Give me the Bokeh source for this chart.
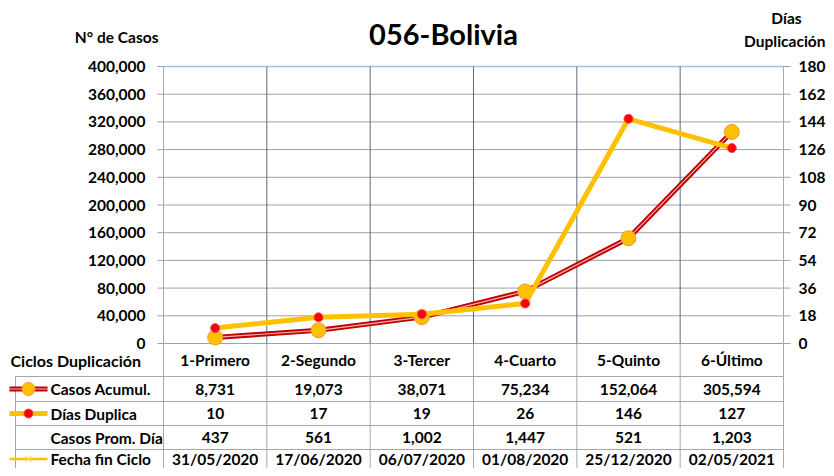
from bokeh.plotting import figure
from bokeh.models import Range1d
from bokeh.embed import file_html
from bokeh.resources import INLINE
from bokeh.core.properties import value

# ---------------- data ----------------
ciclos = ["1-Primero", "2-Segundo", "3-Tercer", "4-Cuarto", "5-Quinto", "6-Último"]
casos_acumul = [8731, 19073, 38071, 75234, 152064, 305594]
dias_duplica = [10, 17, 19, 26, 146, 127]
casos_prom_dia = [437, 561, 1002, 1447, 521, 1203]
fecha_fin_ciclo = ["31/05/2020", "17/06/2020", "06/07/2020", "01/08/2020", "25/12/2020", "02/05/2021"]
casos_ticks = list(range(0, 400001, 40000))
dias_ticks = list(range(0, 181, 18))
title_text = "056-Bolivia"
left_label = "N° de Casos"
right_label = ["Días", "Duplicación"]
row_labels = ["Casos Acumul.", "Días Duplica", "Casos Prom. Día", "Fecha fin Ciclo"]
header_label = "Ciclos Duplicación"

CASOS_MAX = 400000
DIAS_MAX = 180

# ---------------- layout constants (reference pixel positions) ----------------
FONT = "Lato"
W, H = 826, 468
PLOT_L, PLOT_R, PLOT_T, PLOT_B = 163, 783, 66, 343
PX = (PLOT_R - PLOT_L) / 6.0


def dx(ref_x):
    return 0.5 + (ref_x - PLOT_L) / PX


def dy(ref_y):
    return (PLOT_B - ref_y) / (PLOT_B - PLOT_T) * CASOS_MAX


def fmt(v):
    return "{:,}".format(v)


xs = list(range(1, len(ciclos) + 1))
y_lo, y_hi = dy(H), dy(0)

p = figure(width=W, height=H, x_range=Range1d(dx(0), dx(W)), y_range=Range1d(y_lo, y_hi),
           output_backend="svg", toolbar_location=None, x_axis_location=None, y_axis_location=None,
           min_border_left=0, min_border_right=0, min_border_top=0, min_border_bottom=0)
p.extra_y_ranges = {"dias": Range1d(y_lo * DIAS_MAX / CASOS_MAX, y_hi * DIAS_MAX / CASOS_MAX)}
p.outline_line_color = None
p.grid.visible = False
p.background_fill_color = "white"
p.border_fill_color = "white"

txt = dict(text_font=value(FONT), text_font_style="bold", text_font_size="15.5px",
           text_color="black", text_baseline="middle")

# ---------------- plot area ----------------
n_t = len(casos_ticks)
# horizontal gridlines + left tick marks
p.segment(x0=[dx(157)] * n_t, y0=casos_ticks, x1=[6.5] * n_t, y1=casos_ticks,
          line_color="#A0A0A0", line_width=1)
# right tick marks
p.segment(x0=[6.5] * len(dias_ticks), y0=dias_ticks, x1=[dx(790)] * len(dias_ticks), y1=dias_ticks,
          line_color="#A0A0A0", line_width=1, y_range_name="dias")
# top border (light blue)
p.segment(x0=[0.5], y0=[CASOS_MAX], x1=[6.5], y1=[CASOS_MAX], line_color="#9DC3E6", line_width=1.5)
# vertical category gridlines in the plot area
inner = [1.5, 2.5, 3.5, 4.5, 5.5]
p.segment(x0=inner, y0=[0] * 5, x1=inner, y1=[CASOS_MAX] * 5, line_color="#5B6B82", line_width=1)
# left / right borders of plot area and table
p.segment(x0=[0.5, 6.5], y0=[CASOS_MAX] * 2, x1=[0.5, 6.5], y1=[y_lo] * 2,
          line_color="#A6ABB5", line_width=1)

# ---------------- data table ----------------
row_y = [dy(376), dy(401), dy(425), dy(449)]
text_y = [dy(388.5), dy(413), dy(437), dy(458.5)]
left_edge = dx(15)
p.segment(x0=inner, y0=[0] * 5, x1=inner, y1=[y_lo] * 5, line_color="#A0A8B8", line_width=1)
p.segment(x0=[left_edge] * 4, y0=row_y, x1=[6.5] * 4, y1=row_y, line_color="#A6A6A6", line_width=1)
p.segment(x0=[left_edge], y0=[row_y[0]], x1=[left_edge], y1=[y_lo], line_color="#A6A6A6", line_width=1)

# ---------------- series ----------------
p.line(xs, casos_acumul, line_color="#C00000", line_width=5, line_join="round")
p.line(xs, casos_acumul, line_color="#F2B2B2", line_width=1.2, line_join="round")
p.scatter(xs, casos_acumul, size=15, fill_color="#FFC000", line_color="#EE9A3A", line_width=1)
p.line(xs, dias_duplica, y_range_name="dias", line_color="#FFC000", line_width=5, line_join="round")
p.scatter(xs, dias_duplica, y_range_name="dias", size=9, fill_color="#FF0000",
          line_color="#E85050", line_width=1)

# ---------------- axis tick labels ----------------
p.text(x=[dx(145)] * n_t, y=casos_ticks, text=[fmt(v) for v in casos_ticks], text_align="right", **txt)
p.text(x=[dx(798)] * len(dias_ticks), y=dias_ticks, text=[str(v) for v in dias_ticks],
       text_align="left", y_range_name="dias", **txt)

# ---------------- titles ----------------
title_style = dict(txt)
title_style["text_font_size"] = "29px"
p.text(x=[dx(443)], y=[dy(33)], text=[title_text], text_align="center", **title_style)
p.text(x=[dx(158)], y=[dy(36)], text=[left_label], text_align="right", **txt)
p.text(x=[dx(786)], y=[dy(17)], text=[right_label[0]], text_align="center", **txt)
p.text(x=[dx(825)], y=[dy(40)], text=[right_label[1]], text_align="right", **txt)

# ---------------- table texts ----------------
p.text(x=xs, y=[dy(359)] * 6, text=ciclos, text_align="center", **txt)
hdr = dict(txt)
hdr["text_font_size"] = "16px"
p.text(x=[dx(10)], y=[dy(360)], text=[header_label], text_align="left", **hdr)
p.text(x=[dx(50)] * 4, y=text_y, text=row_labels, text_align="left", **txt)
p.text(x=xs, y=[text_y[0]] * 6, text=[fmt(v) for v in casos_acumul], text_align="center", **txt)
p.text(x=xs, y=[text_y[1]] * 6, text=[fmt(v) for v in dias_duplica], text_align="center", **txt)
p.text(x=xs, y=[text_y[2]] * 6, text=[fmt(v) for v in casos_prom_dia], text_align="center", **txt)
p.text(x=xs, y=[text_y[3]] * 6, text=fecha_fin_ciclo, text_align="center", **txt)

# ---------------- legend keys ----------------
k0, k1, kc = dx(9), dx(47), dx(28)
p.line([k0, k1], [text_y[0]] * 2, line_color="#C00000", line_width=5)
p.line([k0, k1], [text_y[0]] * 2, line_color="#F2B2B2", line_width=1.2)
p.scatter([kc], [text_y[0]], size=13, fill_color="#FFC000", line_color="#EE9A3A")
p.line([k0, k1], [text_y[1]] * 2, line_color="#FFC000", line_width=5)
p.scatter([kc], [text_y[1]], size=9, fill_color="#FF0000", line_color="#E85050")
p.line([k0, k1], [text_y[3]] * 2, line_color="#FFC000", line_width=2.5)
p.scatter([kc], [text_y[3]], size=9, marker="x", line_color="#FFD966", line_width=1.2)

open("out.html", "w").write(file_html(p, INLINE))
